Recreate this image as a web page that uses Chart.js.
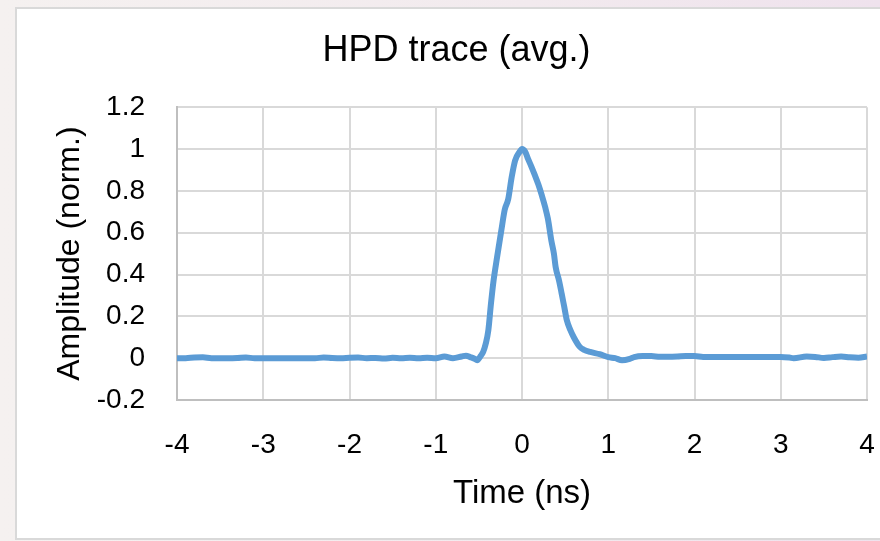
<!DOCTYPE html>
<html>
<head>
<meta charset="utf-8">
<script src="https://cdn.jsdelivr.net/npm/chart.js@4/dist/chart.umd.min.js"></script>
<style>
  html, body { margin: 0; padding: 0; width: 880px; height: 541px; overflow: hidden; }
  body { background: linear-gradient(90deg, #f5f1f0 0%, #f2eaee 60%, #efe2ed 100%); position: relative; }
  #box { position: absolute; left: 15px; top: 7px; width: 900px; height: 529px; background: #ffffff; border: 2px solid #d9d9d9; }
  #c { position: absolute; left: 0; top: 0; }
</style>
</head>
<body>
<div id="box"></div>
<canvas id="c" width="880" height="541"></canvas>
<script>
const chartTitle = 'HPD trace (avg.)';
const xAxisTitle = 'Time (ns)';
const yAxisTitle = 'Amplitude (norm.)';
const xTickLabels = ['-4', '-3', '-2', '-1', '0', '1', '2', '3', '4'];
const yTickLabels = ['-0.2', '0', '0.2', '0.4', '0.6', '0.8', '1', '1.2'];

const times = [
  -4.0, -3.9, -3.8, -3.7, -3.6, -3.5, -3.4, -3.3, -3.2, -3.1,
  -3.0, -2.9, -2.8, -2.7, -2.6, -2.5, -2.4, -2.3, -2.2, -2.1,
  -2.0, -1.9, -1.8, -1.7, -1.6, -1.5, -1.4, -1.3, -1.2, -1.1,
  -1.0, -0.9, -0.8, -0.7, -0.65, -0.6, -0.55, -0.52, -0.48, -0.45,
  -0.42, -0.39, -0.36, -0.33, -0.29, -0.24, -0.2, -0.16, -0.12, -0.08,
  -0.03, 0.0, 0.04, 0.07, 0.11, 0.15, 0.19, 0.23, 0.27, 0.30,
  0.34, 0.37, 0.39, 0.43, 0.46, 0.49, 0.52, 0.56, 0.60, 0.67,
  0.72, 0.79, 0.90, 1.0, 1.08, 1.16, 1.25, 1.3, 1.4, 1.5,
  1.6, 1.7, 1.8, 1.9, 2.0, 2.1, 2.2, 2.3, 2.4, 2.5,
  2.6, 2.7, 2.8, 2.9, 3.0, 3.1, 3.15, 3.3, 3.4, 3.5,
  3.6, 3.7, 3.8, 3.9, 4.0
];
const amps = [
  0.0, 0.0, 0.003, 0.004, 0.0, 0.0, 0.0, 0.001, 0.003, 0.0,
  0.0, 0.0, 0.0, 0.0, 0.0, 0.0, 0.0, 0.003, 0.001, 0.0,
  0.002, 0.003, 0.0, 0.001, -0.002, 0.002, 0.0, 0.002, 0.0, 0.002,
  0.0, 0.008, 0.0, 0.008, 0.012, 0.005, -0.003, -0.01, 0.01, 0.03,
  0.07, 0.134, 0.26, 0.37, 0.48, 0.61, 0.71, 0.76, 0.865, 0.945,
  0.985, 1.0, 0.985, 0.953, 0.915, 0.874, 0.83, 0.778, 0.72, 0.667,
  0.563, 0.5, 0.436, 0.37, 0.309, 0.245, 0.181, 0.135, 0.10, 0.054,
  0.04, 0.03, 0.019, 0.005, 0.0, -0.01, -0.003, 0.005, 0.01, 0.01,
  0.007, 0.007, 0.008, 0.01, 0.01, 0.006, 0.006, 0.006, 0.006, 0.006,
  0.006, 0.006, 0.006, 0.006, 0.006, 0.003, 0.0, 0.008, 0.006, 0.001,
  0.005, 0.008, 0.004, 0.002, 0.008
];

const points = times.map((t, i) => ({ x: t, y: amps[i] }));
const FONT = "'Liberation Sans', Arial, sans-serif";

new Chart(document.getElementById('c'), {
  type: 'line',
  data: {
    datasets: [{
      data: points,
      borderColor: '#5b9bd5',
      borderWidth: 6,
      pointRadius: 0,
      fill: false,
      cubicInterpolationMode: 'monotone'
    }]
  },
  options: {
    responsive: false,
    animation: false,
    layout: { padding: { left: 46, right: 13, top: 0, bottom: 0 } },
    plugins: {
      legend: { display: false },
      tooltip: { enabled: false },
      title: {
        display: true,
        text: chartTitle,
        color: '#000000',
        font: { family: FONT, size: 36, weight: 'normal', lineHeight: 1.2 },
        padding: { top: 29, bottom: 35 }
      }
    },
    scales: {
      x: {
        type: 'linear',
        min: -4, max: 4,
        afterBuildTicks: (s) => { s.ticks = xTickLabels.map(v => ({ value: Number(v) })); },
        afterFit: (s) => { s.height = 141; s.paddingLeft = 0; s.paddingRight = 0; },
        ticks: {
          callback: (v, i) => xTickLabels[i],
          color: '#000000',
          font: { family: FONT, size: 28 },
          padding: 28,
          maxRotation: 0,
          autoSkip: false
        },
        grid: { color: '#d9d9d9', lineWidth: 2, drawTicks: false },
        border: { color: '#bfbfbf', width: 2 },
        title: {
          display: true,
          text: xAxisTitle,
          color: '#000000',
          font: { family: FONT, size: 33, lineHeight: 1.2 },
          padding: { top: 0, bottom: 27 }
        }
      },
      y: {
        min: -0.2, max: 1.2,
        afterBuildTicks: (s) => { s.ticks = yTickLabels.map(v => ({ value: Number(v) })); },
        afterFit: (s) => { s.width = 131; },
        ticks: {
          callback: (v, i) => yTickLabels[i],
          color: '#000000',
          font: { family: FONT, size: 28 },
          padding: 32,
          autoSkip: false
        },
        grid: { color: '#d9d9d9', lineWidth: 2, drawTicks: false },
        border: { color: '#bfbfbf', width: 2 },
        title: {
          display: true,
          text: yAxisTitle,
          color: '#000000',
          font: { family: FONT, size: 32, lineHeight: 1.2 },
          padding: { top: 5, bottom: 0 }
        }
      }
    }
  }
});
</script>
</body>
</html>
